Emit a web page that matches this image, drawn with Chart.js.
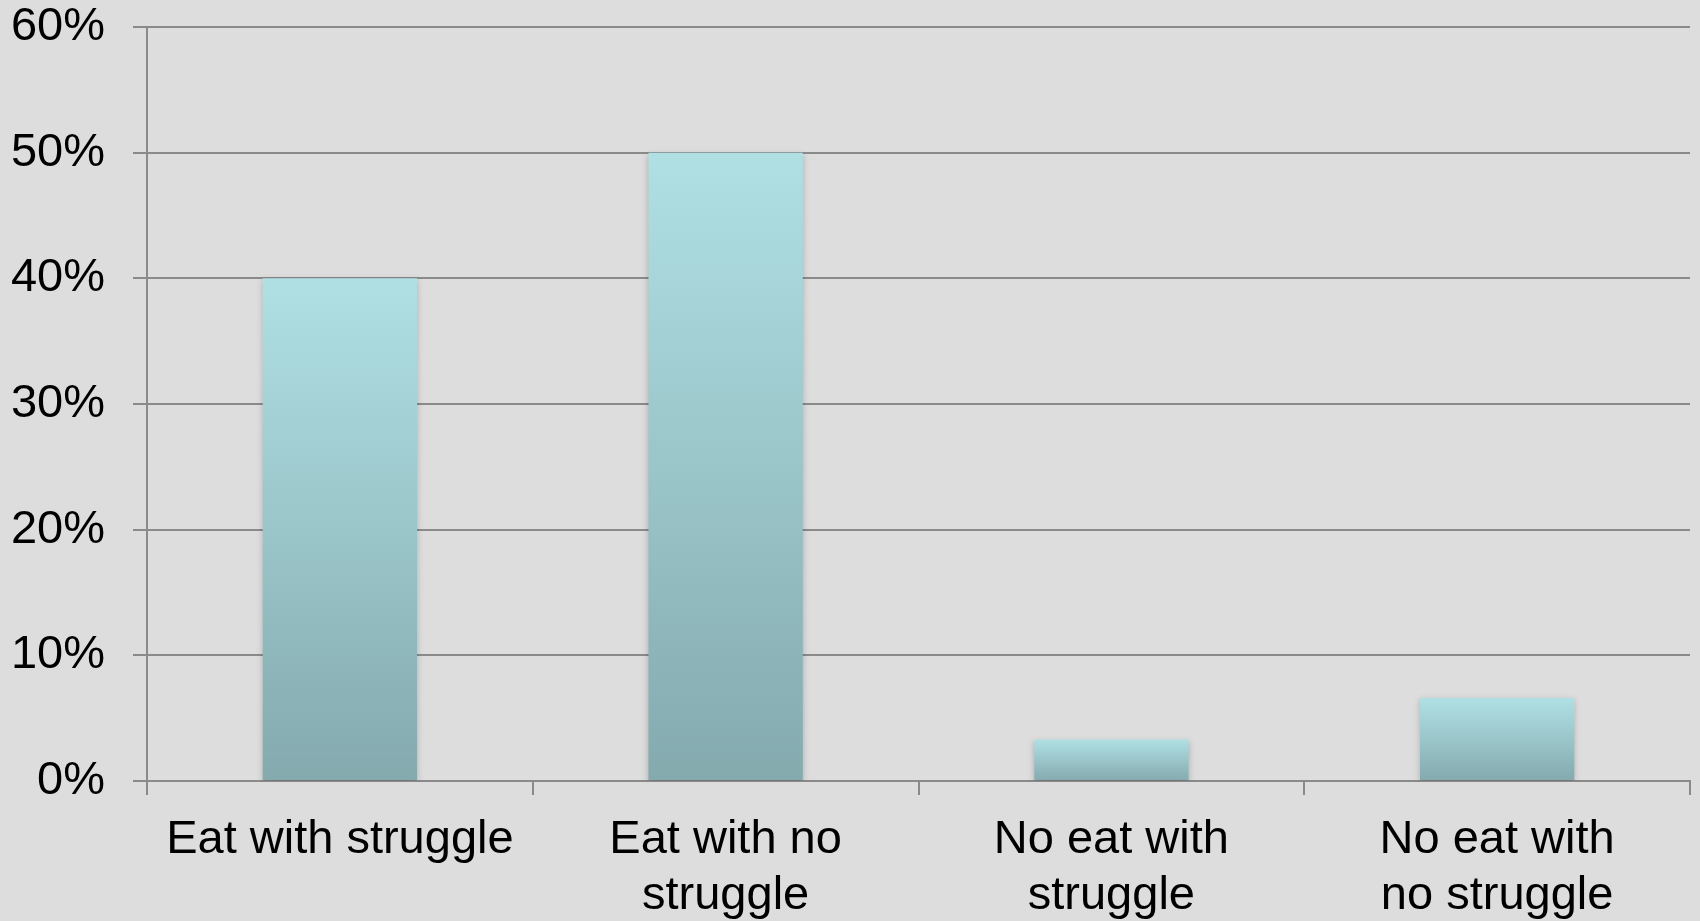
<!DOCTYPE html>
<html>
<head>
<meta charset="utf-8">
<script src="https://cdn.jsdelivr.net/npm/chart.js@4"></script>
<style>
  html, body { margin: 0; padding: 0; background: #dddddd; }
  #wrap { width: 1700px; height: 921px; }
</style>
</head>
<body>
<div id="wrap"><canvas id="myChart" width="1700" height="921"></canvas></div>
<script>
// Categories (x-axis labels, split into lines like the original)
var categories = [
    'Eat with struggle',
    ['Eat with no', 'struggle'],
    ['No eat with', 'struggle'],
    ['No eat with', 'no struggle']
];

// Share of responses, in percent
var values = [40, 50, 3.3, 6.6];

// Y-axis range
var yMin = 0;
var yMax = 60;
var yStep = 10;

var ctx = document.getElementById('myChart').getContext('2d');

// Each bar gets its own top-to-bottom gradient, built from the y scale
function barGradient(context) {
    var chart = context.chart;
    var yScale = chart.scales.y;
    if (!yScale || context.raw === undefined) return '#a6d0d4';
    var top = yScale.getPixelForValue(context.raw);
    var bottom = yScale.getPixelForValue(0);
    if (!isFinite(top) || !isFinite(bottom) || top === bottom) return '#a6d0d4';
    var g = chart.ctx.createLinearGradient(0, top, 0, bottom);
    g.addColorStop(0, 'rgb(176, 224, 228)');
    g.addColorStop(1, 'rgb(132, 170, 174)');
    return g;
}

// Soft shadow around the bars
const shadowPlugin = {
    id: 'shadowPlugin',
    beforeDatasetsDraw(chart) {
        const c = chart.ctx;
        c.save();
        c.shadowColor = 'rgba(0, 0, 0, 0.22)';
        c.shadowBlur = 6;
        c.shadowOffsetY = 2;
    },
    afterDatasetsDraw(chart) {
        chart.ctx.restore();
    }
};

var gridColor = '#8a8a8a';
var fontFamily = '"Liberation Sans", Arial, sans-serif';

var myChart = new Chart(ctx, {
    type: 'bar',
    data: {
        labels: categories,
        datasets: [{
            data: values,
            backgroundColor: barGradient,
            borderWidth: 0,
            barPercentage: 0.4,
            categoryPercentage: 1.0
        }]
    },
    plugins: [shadowPlugin],
    options: {
        responsive: false,
        animation: false,
        layout: {
            padding: { top: 27, right: 10, left: 0, bottom: 0 }
        },
        scales: {
            x: {
                grid: {
                    display: true,
                    drawOnChartArea: false,
                    drawTicks: true,
                    tickLength: 14,
                    color: gridColor,
                    lineWidth: 2
                },
                border: { display: true, color: gridColor, width: 2 },
                ticks: {
                    color: '#000',
                    padding: 17,
                    maxRotation: 0,
                    autoSkip: false,
                    font: { family: fontFamily, size: 47, lineHeight: 1.19 }
                },
                afterFit: function(scale) { scale.height = 140; }
            },
            y: {
                min: yMin,
                max: yMax,
                grid: {
                    color: gridColor,
                    lineWidth: 2,
                    drawTicks: true,
                    tickLength: 14
                },
                border: { display: true, color: gridColor, width: 2 },
                ticks: {
                    stepSize: yStep,
                    color: '#000',
                    padding: 28,
                    font: { family: fontFamily, size: 47 },
                    callback: function(v) { return v + '%'; }
                },
                afterFit: function(scale) {
                    scale.width = 147;
                    scale.paddingTop = 0;
                }
            }
        },
        plugins: {
            legend: { display: false },
            tooltip: { enabled: false }
        }
    }
});
</script>
</body>
</html>
